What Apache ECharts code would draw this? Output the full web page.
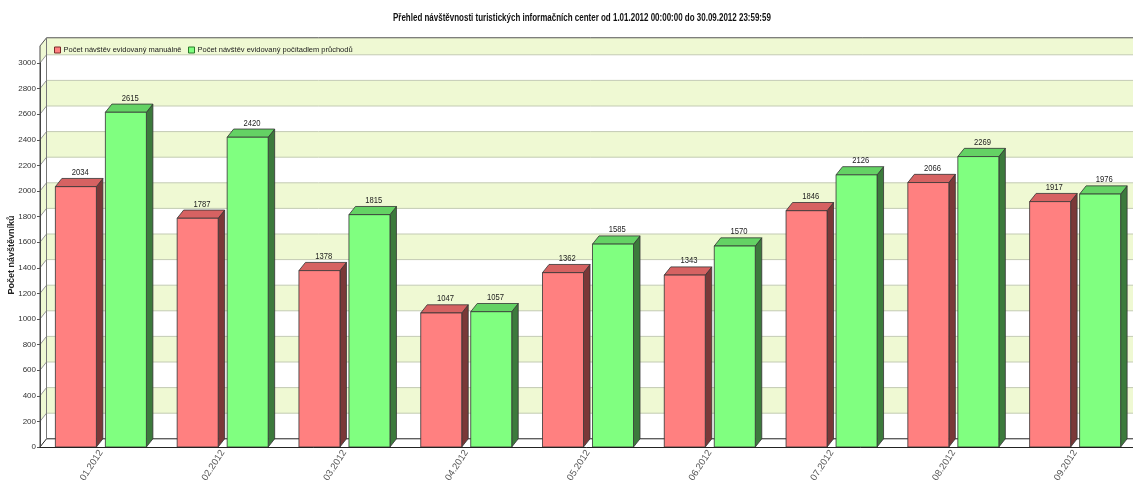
<!DOCTYPE html>
<html>
<head>
<meta charset="utf-8">
<script src="https://cdn.jsdelivr.net/npm/echarts@6/dist/echarts.min.js"></script>
<style>html,body{margin:0;padding:0;background:#fff}#c{width:1133px;height:483px}</style>
</head>
<body>
<div id="c"></div>
<script>
const categories = ['01.2012','02.2012','03.2012','04.2012','05.2012','06.2012','07.2012','08.2012','09.2012'];
const seriesNames = ['Počet návštěv evidovaný manuálně','Počet návštěv evidovaný počítadlem průchodů'];
const manualValues = [2034, 1787, 1378, 1047, 1362, 1343, 1846, 2066, 1917];
const counterValues = [2615, 2420, 1815, 1057, 1585, 1570, 2126, 2269, 1976];
const yTicks = [0,200,400,600,800,1000,1200,1400,1600,1800,2000,2200,2400,2600,2800,3000];
const wallTop = 3133;
const titleText = 'Přehled návštěvnosti turistických informačních center od 1.01.2012 00:00:00 do 30.09.2012 23:59:59';
const yName = 'Počet návštěvníků';

const FONT = "'Liberation Sans',Arial,sans-serif";
const DX = 6.5, DY = 8.2;
const BAND = '#eff9d3', GRIDC = '#c3cbb3';

const chart = echarts.init(document.getElementById('c'), null, {renderer:'canvas'});

function bgItem(params, api) {
  const v = api.value(0);
  const cs = params.coordSys;
  const fx0 = cs.x, fx1 = cs.x + cs.width;
  const vTop = (v + 200 >= wallTop || v >= 3000) ? wallTop : v + 200;
  const yv = api.coord([0, v])[1];
  const yn = api.coord([0, vTop])[1];
  const k = Math.round(v / 200);
  const fill = (k % 2 === 1) ? BAND : '#ffffff';
  const children = [];
  children.push({type:'rect', shape:{x:fx0+DX, y:yn-DY, width:fx1-fx0, height:yv-yn}, style:{fill:fill}, silent:true});
  children.push({type:'polygon', shape:{points:[[fx0,yv],[fx0+DX,yv-DY],[fx0+DX,yn-DY],[fx0,yn]]}, style:{fill:fill}, silent:true});
  const lc = v === 0 ? '#222' : GRIDC;
  children.push({type:'line', shape:{x1:fx0+DX, y1:yv-DY, x2:fx1+DX, y2:yv-DY}, style:{stroke:lc, lineWidth:1}, silent:true});
  children.push({type:'line', shape:{x1:fx0, y1:yv, x2:fx0+DX, y2:yv-DY}, style:{stroke:v===0?'#222':'#999', lineWidth:1}, silent:true});
  if (vTop === wallTop) {
    children.push({type:'line', shape:{x1:fx0+DX, y1:yn-DY, x2:fx1+DX, y2:yn-DY}, style:{stroke:'#555', lineWidth:1}, silent:true});
    children.push({type:'line', shape:{x1:fx0, y1:yn, x2:fx0+DX, y2:yn-DY}, style:{stroke:'#555', lineWidth:1}, silent:true});
    children.push({type:'line', shape:{x1:fx0, y1:yn, x2:fx0, y2:api.coord([0,0])[1]}, style:{stroke:'#444', lineWidth:1}, silent:true});
    children.push({type:'line', shape:{x1:fx0+DX, y1:yn-DY, x2:fx0+DX, y2:api.coord([0,0])[1]-DY}, style:{stroke:'#777', lineWidth:1}, silent:true});
  }
  return {type:'group', children:children};
}

function makeBarRenderer(offset, cols) {
  return function(params, api) {
    const idx = api.value(0);
    const val = api.value(1);
    const p = api.coord([idx, val]);
    const p0 = api.coord([idx, 0]);
    const w = 41;
    const x0 = p[0] + offset, x1 = x0 + w;
    const yt = p[1], yb = p0[1];
    return {type:'group', children:[
      {type:'polygon', shape:{points:[[x1,yt],[x1+DX,yt-DY],[x1+DX,yb-DY],[x1,yb]]}, style:{fill:cols.side, stroke:'#333', lineWidth:0.8}},
      {type:'polygon', shape:{points:[[x0,yt],[x0+DX,yt-DY],[x1+DX,yt-DY],[x1,yt]]}, style:{fill:cols.top, stroke:'#333', lineWidth:0.8}},
      {type:'rect', shape:{x:x0, y:yt, width:w, height:yb-yt}, style:{fill:cols.front, stroke:'#333', lineWidth:0.8}},
      {type:'text', x:(x0+x1)/2+DX/2+1, y:yt-DY-1.5, scaleX:0.85,
       style:{text:String(val), x:0, y:0, align:'center', verticalAlign:'bottom', fill:'#222', font:'9px ' + FONT}}
    ]};
  };
}

const legendCommon = {top:41, itemWidth:6, itemHeight:6, textStyle:{fontSize:7.5, color:'#222', fontFamily:FONT, padding:[0,0,0,-2]}};

const option = {
  animation:false,
  backgroundColor:'#fff',
  textStyle:{fontFamily:FONT},
  graphic:[
    {type:'text', x:393, y:18, scaleX:0.76, z:100,
     style:{text:titleText, x:0, y:0, align:'left', verticalAlign:'middle', fill:'#111', font:'bold 10.5px ' + FONT}}
  ],
  legend:[
    Object.assign({}, legendCommon, {left:49, data:[{name:seriesNames[0], icon:'rect', itemStyle:{color:'#ff8080', borderColor:'#7a2a2a', borderWidth:1}}]}),
    Object.assign({}, legendCommon, {left:183, data:[{name:seriesNames[1], icon:'rect', itemStyle:{color:'#80ff80', borderColor:'#2a7a2a', borderWidth:1}}]})
  ],
  grid:{left:40, right:-3, top:63, bottom:36, containLabel:false, outerBoundsMode:'none'},
  xAxis:{
    type:'category', data:categories,
    axisLine:{lineStyle:{color:'#222', width:1}},
    axisTick:{alignWithLabel:true, length:3, lineStyle:{color:'#555'}},
    axisLabel:{rotate:57, fontSize:9.5, color:'#555', margin:4, fontFamily:FONT},
    splitLine:{show:false}, z:10
  },
  yAxis:{
    type:'value', min:0, max:3000, interval:200,
    name:yName, nameLocation:'middle', nameGap:24, nameRotate:90, nameMoveOverlap:false,
    nameTextStyle:{fontSize:9, fontWeight:'bold', color:'#222', fontFamily:FONT},
    axisLine:{show:true, lineStyle:{color:'#444'}},
    axisTick:{show:true, length:3, lineStyle:{color:'#555'}},
    axisLabel:{fontSize:8, color:'#333', margin:4, fontFamily:FONT, formatter:function(v){return String(v);}},
    splitLine:{show:false}
  },
  series:[
    {type:'custom', name:'bg', data:yTicks.map(v=>[v]), renderItem:bgItem, clip:false, silent:true, z:0, encode:{x:-1,y:0}, legendHoverLink:false},
    {type:'custom', name:seriesNames[0], data:manualValues.map((v,i)=>[i,v]), clip:false, z:5,
     itemStyle:{color:'#ff8080'}, encode:{x:0,y:1},
     renderItem:makeBarRenderer(-45.5, {front:'#ff8080', top:'#d66262', side:'#7a3838'})},
    {type:'custom', name:seriesNames[1], data:counterValues.map((v,i)=>[i,v]), clip:false, z:5,
     itemStyle:{color:'#80ff80'}, encode:{x:0,y:1},
     renderItem:makeBarRenderer(4.5, {front:'#80ff80', top:'#64d264', side:'#3c7a3c'})}
  ]
};
chart.setOption(option);
</script>
</body>
</html>
